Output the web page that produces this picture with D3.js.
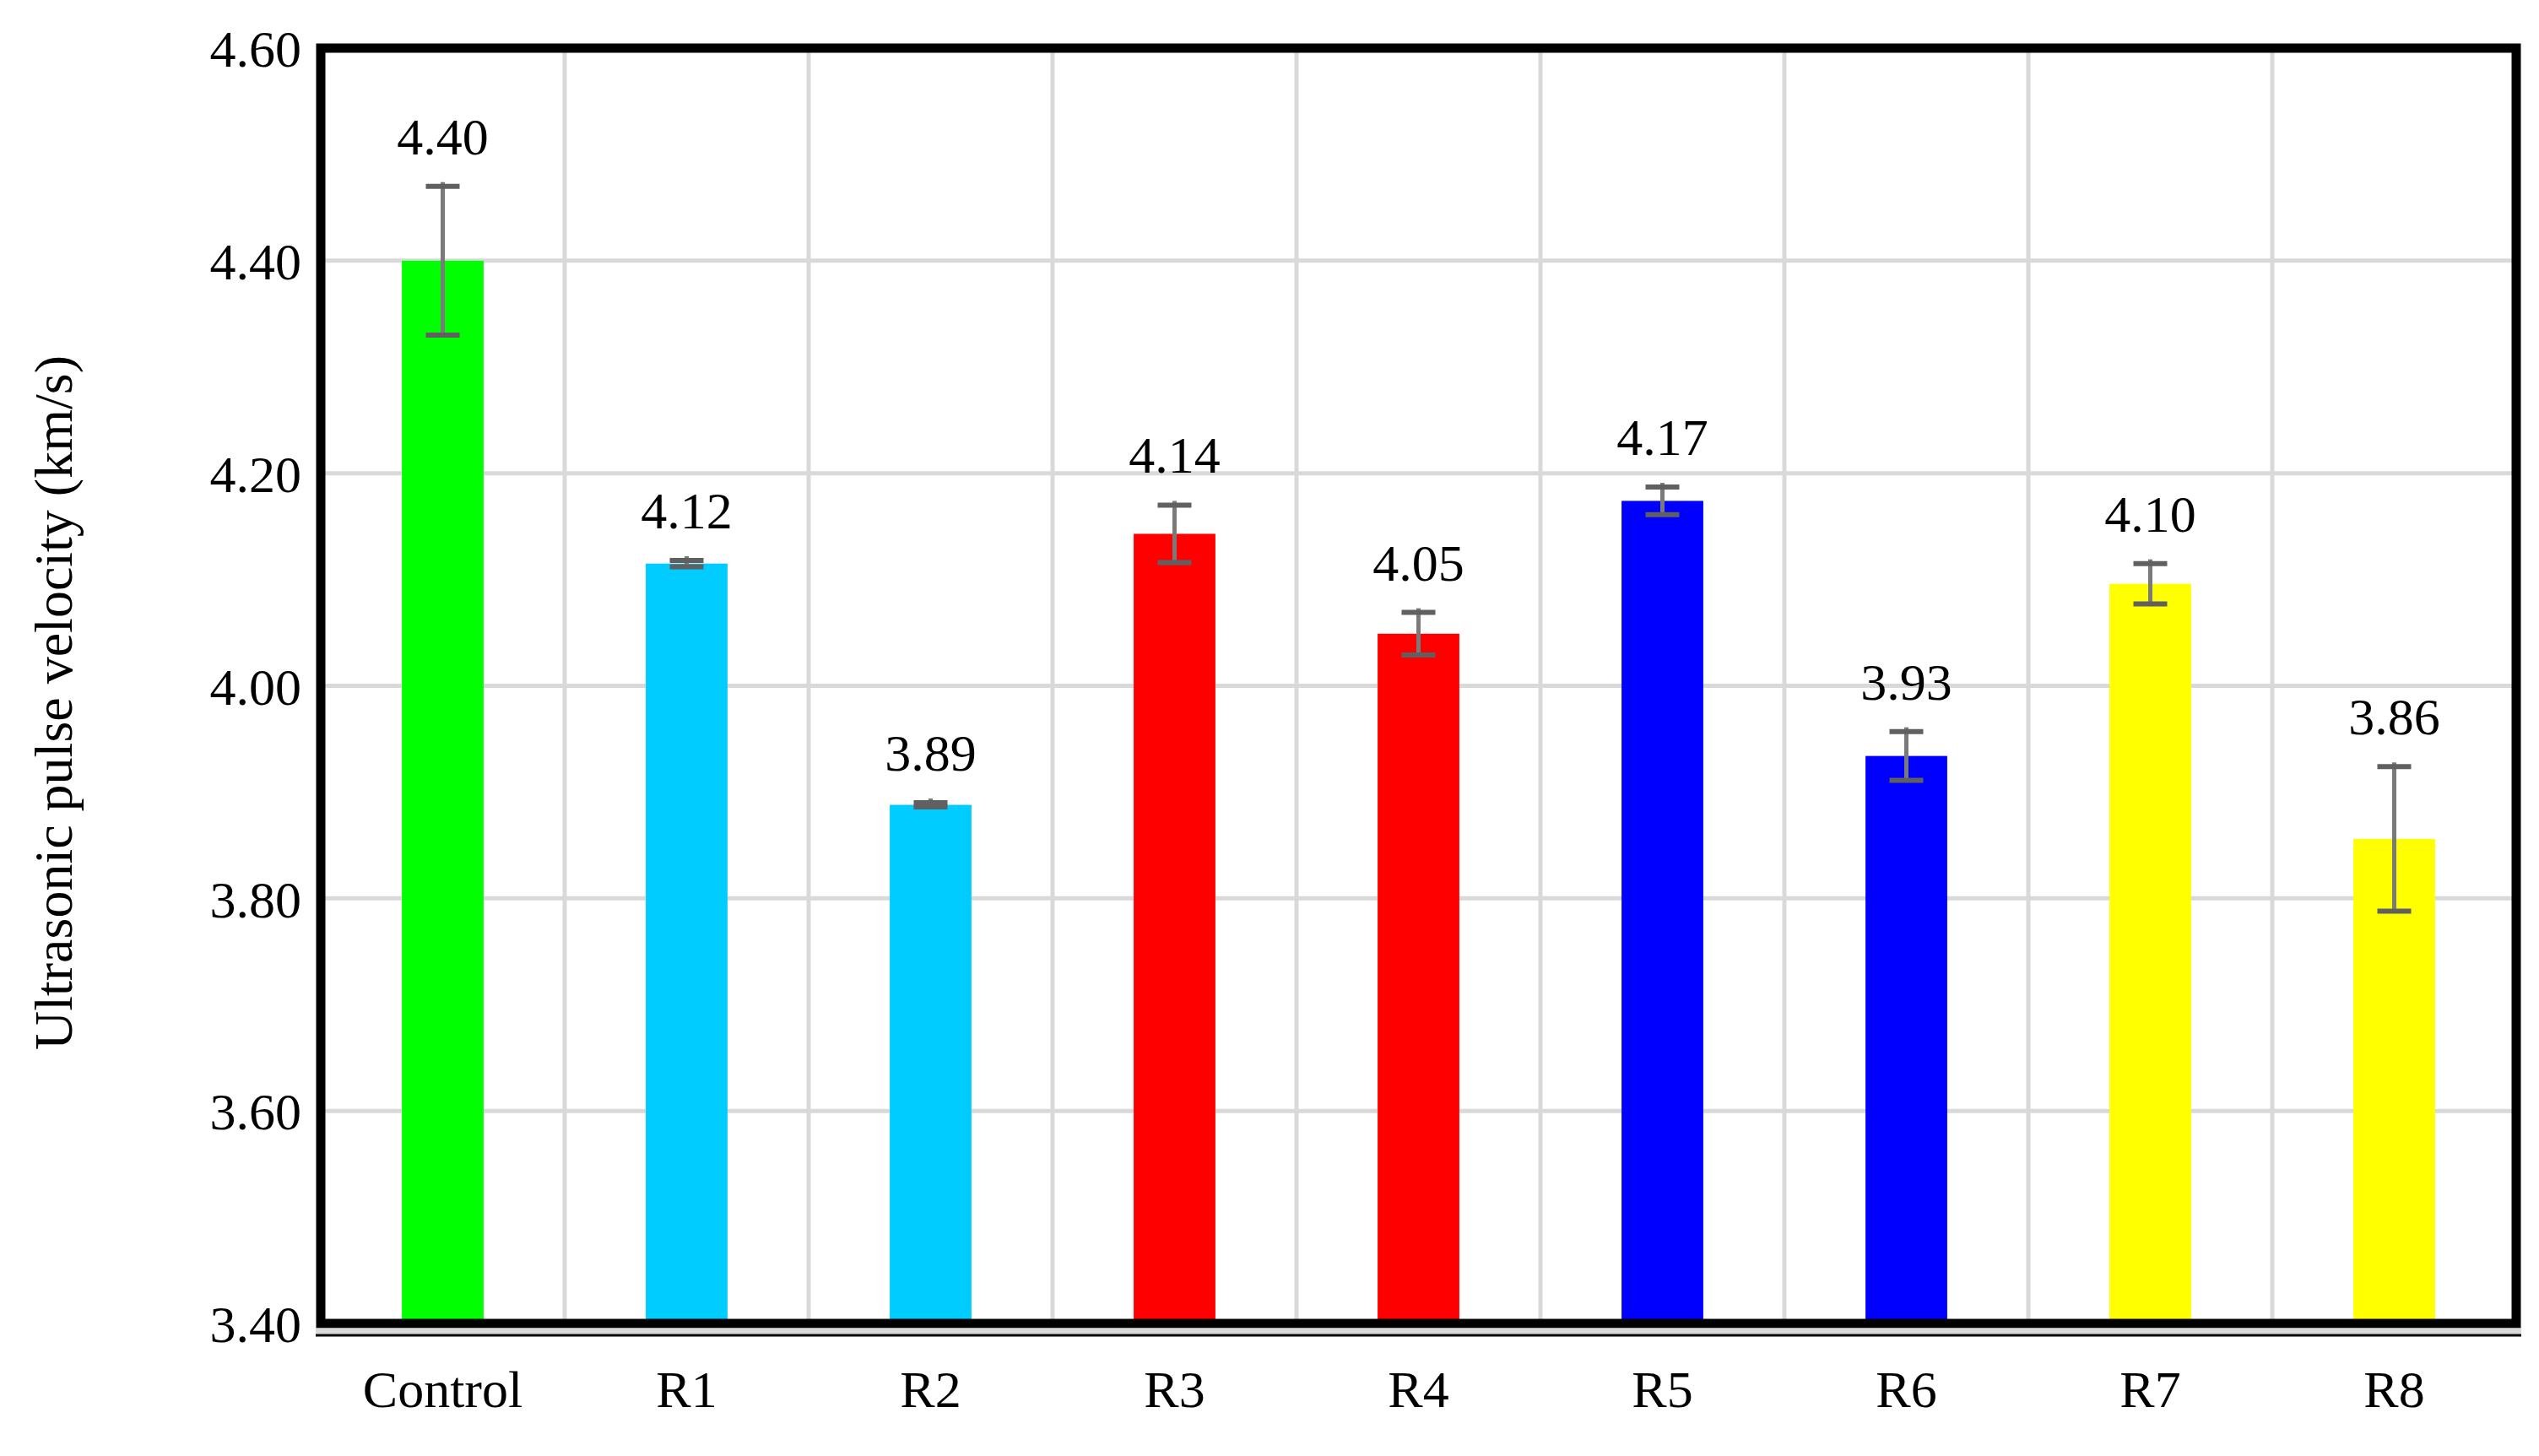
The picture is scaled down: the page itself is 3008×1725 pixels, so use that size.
<!DOCTYPE html>
<html><head><meta charset="utf-8">
<script src="https://cdn.jsdelivr.net/npm/d3@7"></script>
<style>body{margin:0;background:#fff}</style></head>
<body><svg id="c" width="3008" height="1725"></svg>
<script>
const categories=["Control","R1","R2","R3","R4","R5","R6","R7","R8"];
const values=[4.40,4.115,3.888,4.143,4.049,4.174,3.934,4.096,3.856];
const errors=[0.07,0.003,0.002,0.027,0.02,0.013,0.023,0.019,0.068];
const colors=["#00ff00","#00ccff","#00ccff","#ff0000","#ff0000","#0000ff","#0000ff","#ffff00","#ffff00"];
const labels=["4.40","4.12","3.89","4.14","4.05","4.17","3.93","4.10","3.86"];
const yTicks=[3.4,3.6,3.8,4.0,4.2,4.4,4.6];

const svg=d3.select("#c");
const L=380,R=2981,T=57,B=1568;
const x=d3.scaleBand().domain(categories).range([L,R]).paddingInner(0).paddingOuter(0);
const y=d3.scaleLinear().domain([3.4,4.6]).range([B,T]);
const font="'Liberation Serif','Times New Roman',serif";
const bw=x.step()*0.335;

// grid
svg.append("g").selectAll("line").data(yTicks).join("line")
 .attr("x1",L).attr("x2",R).attr("y1",d=>y(d)).attr("y2",d=>y(d))
 .attr("stroke","#d9d9d9").attr("stroke-width",5);
svg.append("g").selectAll("line").data(categories.slice(1)).join("line")
 .attr("x1",d=>x(d)).attr("x2",d=>x(d)).attr("y1",T).attr("y2",B)
 .attr("stroke","#d9d9d9").attr("stroke-width",5);

// bars
svg.append("g").selectAll("rect").data(categories).join("rect")
 .attr("x",d=>x(d)+x.bandwidth()/2-bw/2).attr("width",bw)
 .attr("y",(d,i)=>y(values[i])).attr("height",(d,i)=>B-y(values[i]))
 .attr("fill",(d,i)=>colors[i]);

// error bars
const eb=svg.append("g");
categories.forEach((c,i)=>{
  const cx=x(c)+x.bandwidth()/2;
  const y1=y(values[i]+errors[i]),y2=y(values[i]-errors[i]);
  eb.append("line").attr("x1",cx).attr("x2",cx).attr("y1",y1-5).attr("y2",y2)
    .attr("stroke","#7a7a7a").attr("stroke-width",5);
  [y1,y2].forEach(yy=>eb.append("line").attr("x1",cx-20).attr("x2",cx+20)
    .attr("y1",yy).attr("y2",yy).attr("stroke","#606060").attr("stroke-width",6));
  svg.append("text").attr("x",cx).attr("y",y1-38).attr("text-anchor","middle")
    .attr("font-family",font).attr("font-size",62).text(labels[i]);
});

// frame
svg.append("rect").attr("x",L).attr("y",T).attr("width",R-L).attr("height",B-T)
 .attr("fill","none").attr("stroke","#000").attr("stroke-width",11);
svg.append("line").attr("x1",L-6).attr("x2",R+6).attr("y1",B+9).attr("y2",B+9)
 .attr("stroke","#d9d9d9").attr("stroke-width",7);
svg.append("line").attr("x1",L-6).attr("x2",R+6).attr("y1",B+14).attr("y2",B+14)
 .attr("stroke","#000").attr("stroke-width",3);

// y axis labels
const ya=svg.append("g").attr("transform",`translate(${L-20},0)`)
 .call(d3.axisLeft(y).tickValues(yTicks).tickFormat(d3.format(".2f")).tickSize(0));
ya.select(".domain").remove();
ya.selectAll("text").attr("font-family",font).attr("font-size",62).attr("fill","#000").attr("dy","0.35em");

// x axis labels
const xa=svg.append("g").attr("transform",`translate(0,${B+40})`)
 .call(d3.axisBottom(x).tickSize(0));
xa.select(".domain").remove();
xa.selectAll("text").attr("font-family",font).attr("font-size",62).attr("fill","#000").attr("dy","0.9em");

svg.append("text").attr("transform",`translate(85,${(T+B)/2+20}) rotate(-90)`)
 .attr("text-anchor","middle").attr("font-family",font).attr("font-size",64)
 .text("Ultrasonic pulse velocity (km/s)");
</script></body></html>
